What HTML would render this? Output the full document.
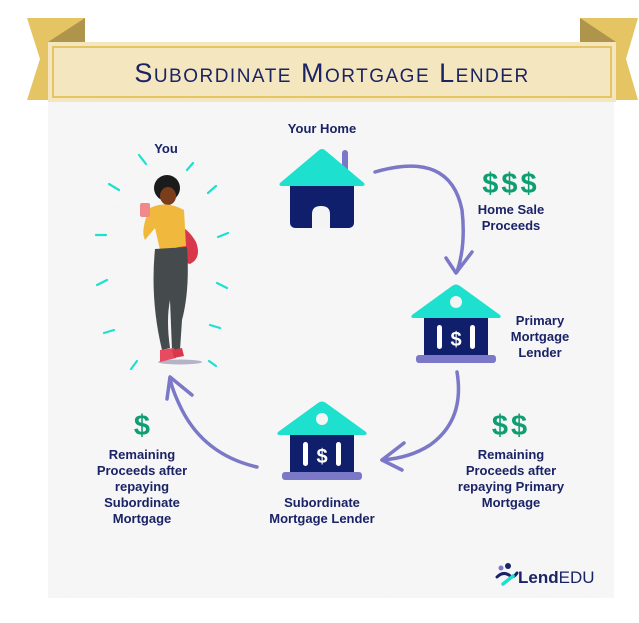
<!DOCTYPE html>
<html><head><meta charset="utf-8"><style>
html,body{margin:0;padding:0;background:#fff;}
body{width:639px;height:623px;position:relative;overflow:hidden;font-family:"Liberation Sans",sans-serif;}
svg{position:absolute;left:0;top:0;}
</style></head><body>
<svg width="639" height="623" viewBox="0 0 639 623" xmlns="http://www.w3.org/2000/svg">
<defs>
<filter id="tex" x="0" y="0" width="100%" height="100%">
<feTurbulence type="fractalNoise" baseFrequency="0.02 0.12" numOctaves="3" seed="3"/>
<feColorMatrix values="0 0 0 0 0.9  0 0 0 0 0.9  0 0 0 0 0.9  0 0 0 0.25 0"/>
</filter>
</defs>
<!-- paper -->
<rect x="48" y="100" width="566" height="498" fill="#f6f6f6"/>
<rect x="48" y="100" width="566" height="498" filter="url(#tex)" opacity="0.5"/>
<!-- ribbons -->
<polygon points="27,18 85,18 85,100 27,100 40,59" fill="#e5c464"/>
<polygon points="48,42 85,18 85,42" fill="#af954c"/>
<polygon points="580,18 638,18 626,59 638,100 580,100" fill="#e5c464"/>
<polygon points="580,18 616,42 580,42" fill="#af954c"/>
<!-- banner -->
<rect x="48" y="42" width="568" height="60" fill="#f4e6bf"/>
<rect x="53" y="47" width="558" height="50" fill="none" stroke="#e5c464" stroke-width="2"/>
<text x="332" y="82" text-anchor="middle" font-family="Liberation Sans, sans-serif" font-size="27" fill="#1a2366" style="font-variant:small-caps" letter-spacing="1.5">Subordinate Mortgage Lender</text>

<!-- text labels -->
<g font-family="Liberation Sans, sans-serif" font-weight="bold" fill="#1a2366" font-size="13" text-anchor="middle">
<text x="166" y="153">You</text>
<text x="322" y="133">Your Home</text>
<text x="511" y="214">Home Sale</text>
<text x="511" y="230">Proceeds</text>
<text x="540" y="325">Primary</text>
<text x="540" y="341">Mortgage</text>
<text x="540" y="357">Lender</text>
<text x="322" y="507">Subordinate</text>
<text x="322" y="523">Mortgage Lender</text>
<text x="511" y="459">Remaining</text>
<text x="511" y="475">Proceeds after</text>
<text x="511" y="491">repaying Primary</text>
<text x="511" y="507">Mortgage</text>
<text x="142" y="459">Remaining</text>
<text x="142" y="475">Proceeds after</text>
<text x="142" y="491">repaying</text>
<text x="142" y="507">Subordinate</text>
<text x="142" y="523">Mortgage</text>
</g>
<g font-family="Liberation Sans, sans-serif" font-weight="bold" fill="#0e9e72" font-size="29" text-anchor="middle">
<text x="511" y="193" letter-spacing="3">$$$</text>
<text x="511" y="435" letter-spacing="3">$$</text>
<text x="142" y="435">$</text>
</g>

<!-- house -->
<rect x="342" y="150" width="6" height="24" rx="3" fill="#7b78c8"/>
<rect x="290" y="180" width="64" height="48" rx="5" fill="#0f1f6b"/>
<path d="M280 183 L318 151 Q322 147 326 151 L364 183 Q366 186 361 186 L283 186 Q278 186 280 183 Z" fill="#1de0cf"/>
<path d="M312 228 L312 214 Q312 206 321 206 Q330 206 330 214 L330 228 Z" fill="#f4f4f4"/>

<!-- banks -->
<g>
<path d="M412 315 L452 286 Q456 283 460 286 L500 315 Q502 318 498 318 L414 318 Q410 318 412 315 Z" fill="#1de0cf"/>
<circle cx="456" cy="302" r="6" fill="#f4f4f4"/>
<rect x="424" y="318" width="64" height="37" fill="#0f1f6b"/>
<rect x="437" y="325" width="5" height="24" rx="2.5" fill="#fff"/>
<rect x="470" y="325" width="5" height="24" rx="2.5" fill="#fff"/>
<text x="456" y="346" text-anchor="middle" font-weight="bold" font-size="20" fill="#fff" font-family="Liberation Sans, sans-serif">$</text>
<rect x="416" y="355" width="80" height="8" rx="3" fill="#7b78c8"/>
</g>
<g transform="translate(-134,117)">
<path d="M412 315 L452 286 Q456 283 460 286 L500 315 Q502 318 498 318 L414 318 Q410 318 412 315 Z" fill="#1de0cf"/>
<circle cx="456" cy="302" r="6" fill="#f4f4f4"/>
<rect x="424" y="318" width="64" height="37" fill="#0f1f6b"/>
<rect x="437" y="325" width="5" height="24" rx="2.5" fill="#fff"/>
<rect x="470" y="325" width="5" height="24" rx="2.5" fill="#fff"/>
<text x="456" y="346" text-anchor="middle" font-weight="bold" font-size="20" fill="#fff" font-family="Liberation Sans, sans-serif">$</text>
<rect x="416" y="355" width="80" height="8" rx="3" fill="#7b78c8"/>
</g>

<!-- arrows -->
<g fill="none" stroke="#7b78c8" stroke-width="3.5" stroke-linecap="round" stroke-linejoin="round">
<path d="M375 172 Q450 150 462 210 Q466 245 457 272"/>
<path d="M446 258 L456 273 L472 252"/>
<path d="M457 372 Q465 420 430 445 Q410 458 382 460"/>
<path d="M404 443 L382 460 L402 470"/>
<path d="M257 467 Q205 455 182 410 Q172 390 170 378"/>
<path d="M192 395 L170 377 L167 399"/>
</g>

<!-- rays -->
<g stroke="#1de0cf" stroke-width="2.2" stroke-linecap="round">
<line x1="139" y1="155" x2="146" y2="164"/>
<line x1="193" y1="163" x2="187" y2="170"/>
<line x1="109" y1="184" x2="119" y2="190"/>
<line x1="216" y1="186" x2="208" y2="193"/>
<line x1="96" y1="235" x2="106" y2="235"/>
<line x1="218" y1="237" x2="228" y2="233"/>
<line x1="97" y1="285" x2="107" y2="280"/>
<line x1="217" y1="283" x2="227" y2="288"/>
<line x1="104" y1="333" x2="114" y2="330"/>
<line x1="210" y1="325" x2="220" y2="328"/>
<line x1="131" y1="369" x2="137" y2="361"/>
<line x1="209" y1="361" x2="216" y2="366"/>
</g>

<!-- person -->
<ellipse cx="180" cy="362" rx="22" ry="2.5" fill="#8a87a8" opacity="0.6"/>
<path d="M176 224 Q188 228 196 242 Q202 258 190 264 Q178 262 176 244 Z" fill="#d8384a"/>
<circle cx="167" cy="188" r="13" fill="#1b1b1b"/>
<ellipse cx="168" cy="196" rx="8" ry="9" fill="#7a3e1c"/>
<path d="M150 208 Q166 200 184 210 L186 246 L160 250 L155 228 L145 240 Q140 230 150 208 Z" fill="#f0b83c"/>
<rect x="140" y="203" width="10" height="14" rx="2" fill="#f08a8a"/>
<path d="M155 249 L187 247 Q190 290 182 320 L180 350 L172 350 L170 300 Q166 320 170 348 L162 350 Q150 300 155 249 Z" fill="#454a4d"/>
<path d="M160 350 L174 348 L176 358 L160 362 Z" fill="#e84a5f"/>
<path d="M172 350 L182 348 L184 356 L174 358 Z" fill="#d8384a"/>

<!-- logo -->
<circle cx="501" cy="568" r="2.5" fill="#7b78c8"/>
<circle cx="508" cy="566" r="3" fill="#1a2366"/>
<path d="M497 577 Q503 571 509 575 Q513 579 517 573" fill="none" stroke="#1a2366" stroke-width="3" stroke-linecap="round"/>
<path d="M503 584 L513 576" stroke="#1de0cf" stroke-width="3.5" stroke-linecap="round"/>
<text x="518" y="583" font-family="Liberation Sans, sans-serif" font-size="17" fill="#1a2366"><tspan font-weight="bold">Lend</tspan>EDU</text>
</svg>
</body></html>
